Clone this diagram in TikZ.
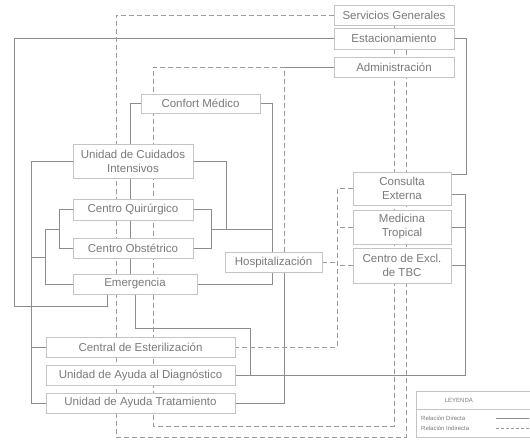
\documentclass[tikz,border=0pt]{standalone}
\usepackage{fontspec}
\setmainfont{Liberation Sans}
\usetikzlibrary{backgrounds}
\definecolor{txtgray}{HTML}{7A7A7A}
\definecolor{boxgray}{HTML}{C4C4C4}
\definecolor{linegray}{HTML}{8C8C8C}
\definecolor{dashgray}{HTML}{9A9A9A}
\begin{document}
\begin{tikzpicture}[x=1pt,y=-1pt,
  box/.style={draw=boxgray, fill=white, text=txtgray, line width=0.8pt, inner sep=0pt, align=center, font=\fontsize{11.5}{14}\selectfont},
  direct/.style={draw=linegray, line width=0.9pt},
  indirect/.style={draw=dashgray, line width=0.9pt, dash pattern=on 5pt off 3pt},
  legtxt/.style={text=txtgray, font=\fontsize{6}{7}\selectfont, inner sep=0pt},
  legbox/.style={draw=boxgray, fill=white, line width=0.7pt, inner sep=0pt, anchor=north west, minimum width=115}]
\useasboundingbox (0,0) rectangle (530,439);

% boxes
\node[box, minimum width=120, minimum height=20] (sg) at (394,15) {Servicios Generales};
\node[box, minimum width=120, minimum height=21] (est) at (394,38.5) {Estacionamiento};
\node[box, minimum width=120, minimum height=20] (adm) at (394,67) {Administración};
\node[box, minimum width=98, minimum height=33] (ce) at (402,188.5) {Consulta\\Externa};
\node[box, minimum width=98, minimum height=34] (mt) at (402,227) {Medicina\\Tropical};
\node[box, minimum width=98, minimum height=35] (tbc) at (402,265.5) {Centro de Excl.\\de TBC};
\node[box, minimum width=97, minimum height=20] (hosp) at (273.5,262) {Hospitalización};
\node[box, minimum width=119, minimum height=19] (cm) at (200.5,103.5) {Confort Médico};
\node[box, minimum width=120, minimum height=34] (uci) at (133,161) {Unidad de Cuidados\\Intensivos};
\node[box, minimum width=120, minimum height=21] (cq) at (133,209.5) {Centro Quirúrgico};
\node[box, minimum width=120, minimum height=20] (co) at (133,248) {Centro Obstétrico};
\node[box, minimum width=124, minimum height=20] (em) at (135,284) {Emergencia};
\node[box, minimum width=189, minimum height=20] (ces) at (140.5,347) {Central de Esterilización};
\node[box, minimum width=189, minimum height=20] (uad) at (140.5,375) {Unidad de Ayuda al Diagnóstico};
\node[box, minimum width=189, minimum height=20] (uat) at (140.5,403) {Unidad de Ayuda Tratamiento};

% legend
\node[legbox, minimum height=18, text=txtgray, font=\fontsize{6}{7}\selectfont] (legtitle) at (416,391) {\hspace*{-30pt}LEYENDA};
\node[legbox, minimum height=28] (legbody) at (416,409) {};
\node[legtxt, anchor=west] (ld) at (421,418.5) {Relación Directa};
\node[legtxt, anchor=west] (li) at (421,428) {Relación Indirecta};
\coordinate (ld1) at (496,418.5);
\coordinate (ld2) at (529,418.5);
\coordinate (li1) at (496,428);
\coordinate (li2) at (529,428);
\draw[draw=linegray, line width=0.6pt] (ld1) -- (ld2);
\draw[draw=dashgray, line width=0.6pt, dash pattern=on 3pt off 2pt] (li1) -- (li2);

\begin{pgfonlayer}{background}
\fill[white] (0,0) rectangle (530,439);
% direct relations
\draw[direct] (est.west) -| (14,306) -| ([xshift=-28]em.south);
\draw[direct] (est.east) -| (466,174) -- ([yshift=14.5]ce.east);
\draw[direct] ([yshift=-5.5]ce.east) -- (465,194) -- (465,375) -- (uad.east);
\draw[direct] (mt.east) -- (465,227);
\draw[direct] (tbc.east) -- (465,265.5);
\draw[direct] (em.south) -- (135,328) -| (250,375);
\draw[direct] (cm.east) -| (272,284) -- (em.east);
\draw[direct] (cq.east) -| (211,248) -- (co.east);
\draw[direct] (211,229) -- (272,229);
\draw[direct] (uci.east) -| (226,229);
\draw[direct] (uci.west) -| (31,403) -- (uat.west);
\draw[direct] (ces.west) -- (31,347);
\draw[direct] (31,257) -- (45,257);
\draw[direct] (45,229) -- (45,284) -- (em.west);
\draw[direct] (45,229) -- (59,229);
\draw[direct] (cq.west) -| (59,248) -- (co.west);
\draw[direct] (cm.west) -| ([xshift=-5]em.north);
\draw[direct] ([xshift=10.5]hosp.south) |- (uat.east);
\draw[direct] (adm.west) -- (284,67);
% indirect relations
\draw[indirect] (sg.west) -| (116,437) -| ([xshift=12]est.south);
\draw[indirect] ([xshift=10.5]hosp.north) |- (153,67) -- (153,426) -| (sg.south);
\draw[indirect] (ce.west) -| (337,347) -- (ces.east);
\draw[indirect] (mt.west) -- (337,227);
\draw[indirect] (tbc.west) -- (337,265.5);
\draw[indirect] (hosp.east) -- (337,262);
\end{pgfonlayer}
\end{tikzpicture}
\end{document}
